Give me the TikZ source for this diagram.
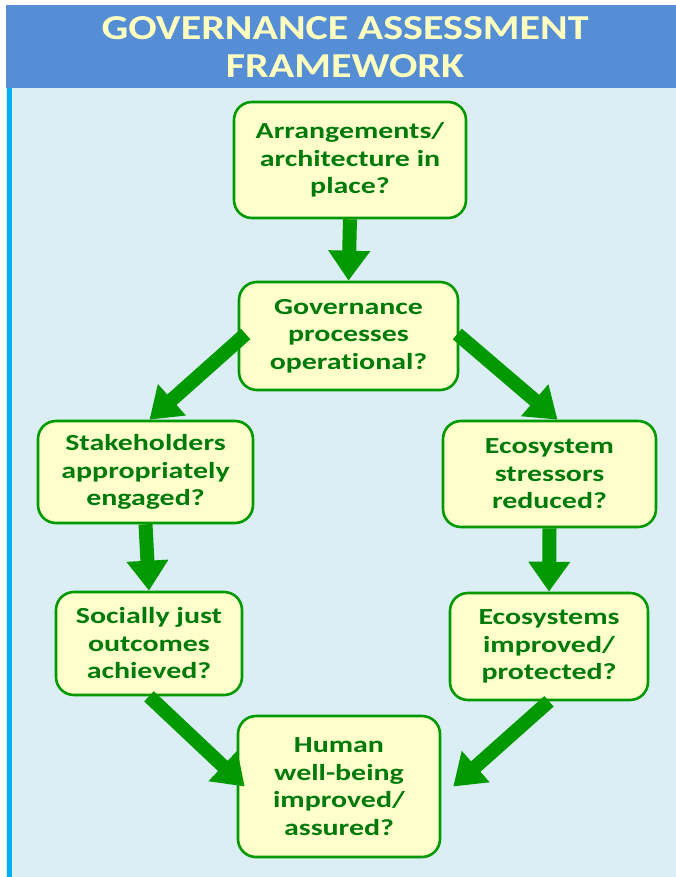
\documentclass[tikz,border=0pt]{standalone}
\usepackage{fontspec}
\setmainfont{Carlito}
\newfontfamily\bodyfont[FakeStretch=1.3,Ligatures=NoCommon]{Carlito}
\newfontfamily\titlefont[FakeStretch=1.2,Ligatures=NoCommon]{Carlito}
\usetikzlibrary{arrows.meta}
\definecolor{hdrblue}{RGB}{85,142,213}
\definecolor{hdrtext}{RGB}{255,255,192}
\definecolor{bgblue}{RGB}{219,238,244}
\definecolor{stripcyan}{RGB}{0,176,240}
\definecolor{boxfill}{RGB}{255,255,204}
\definecolor{boxline}{RGB}{0,153,0}
\definecolor{txtgreen}{RGB}{0,122,10}
\tikzset{
  qbox/.style={draw=boxline, line width=2.6pt, fill=boxfill, rounded corners=18pt,
    align=center, text=txtgreen, font=\bodyfont\fontsize{23}{27.5}\selectfont\bfseries,
    inner sep=0pt},
  bigarrow/.style={draw=boxline, line width=14pt,
    -{Triangle[width=40pt,length=30pt]}, shorten >=0pt}
}
\begin{document}
\begin{tikzpicture}[x=1pt,y=-1pt]
\useasboundingbox (0,0) rectangle (676,877);
\fill[white] (0,0) rectangle (676,877);
\fill[bgblue] (6,88) rectangle (676,877);
\fill[stripcyan] (7,88) rectangle (12,877);
\fill[hdrblue] (6,5) rectangle (676,88);
\node[text=hdrtext, font=\titlefont\fontsize{35}{38}\selectfont\bfseries, align=center] (title) at (345,47)
  {GOVERNANCE ASSESSMENT\\FRAMEWORK};

\node[qbox, minimum width=232pt, minimum height=116pt] (arr) at (350,160)
  {Arrangements/\\architecture in\\place?};
\node[qbox, minimum width=219pt, minimum height=108pt] (gov) at (348.5,336)
  {Governance\\processes\\operational?};
\node[qbox, minimum width=215pt, minimum height=102pt] (stake) at (145.5,472)
  {Stakeholders\\appropriately\\engaged?};
\node[qbox, minimum width=213pt, minimum height=106pt] (eco1) at (549.5,474)
  {Ecosystem\\stressors\\reduced?};
\node[qbox, minimum width=186pt, minimum height=103pt] (soc) at (149,643.5)
  {Socially just\\outcomes\\achieved?};
\node[qbox, minimum width=198pt, minimum height=107pt] (eco2) at (549,646.5)
  {Ecosystems\\improved/\\protected?};
\node[qbox, minimum width=202pt, minimum height=141pt] (human) at (339,786.5)
  {Human\\well-being\\improved/\\assured?};

\draw[bigarrow] (arr.south) -- (gov.north);
\draw[bigarrow] ([xshift=8pt,yshift=2pt]gov.west) -- ([xshift=4pt]stake.north);
\draw[bigarrow] ([xshift=-2pt,yshift=2pt]gov.east) -- ([xshift=8pt]eco1.north);
\draw[bigarrow] (stake.south) -- (soc.north);
\draw[bigarrow] (eco1.south) -- (eco2.north);
\draw[bigarrow] (soc.south) -- ([xshift=8pt]human.west);
\draw[bigarrow] (eco2.south) -- ([xshift=12pt]human.east);
\end{tikzpicture}
\end{document}
